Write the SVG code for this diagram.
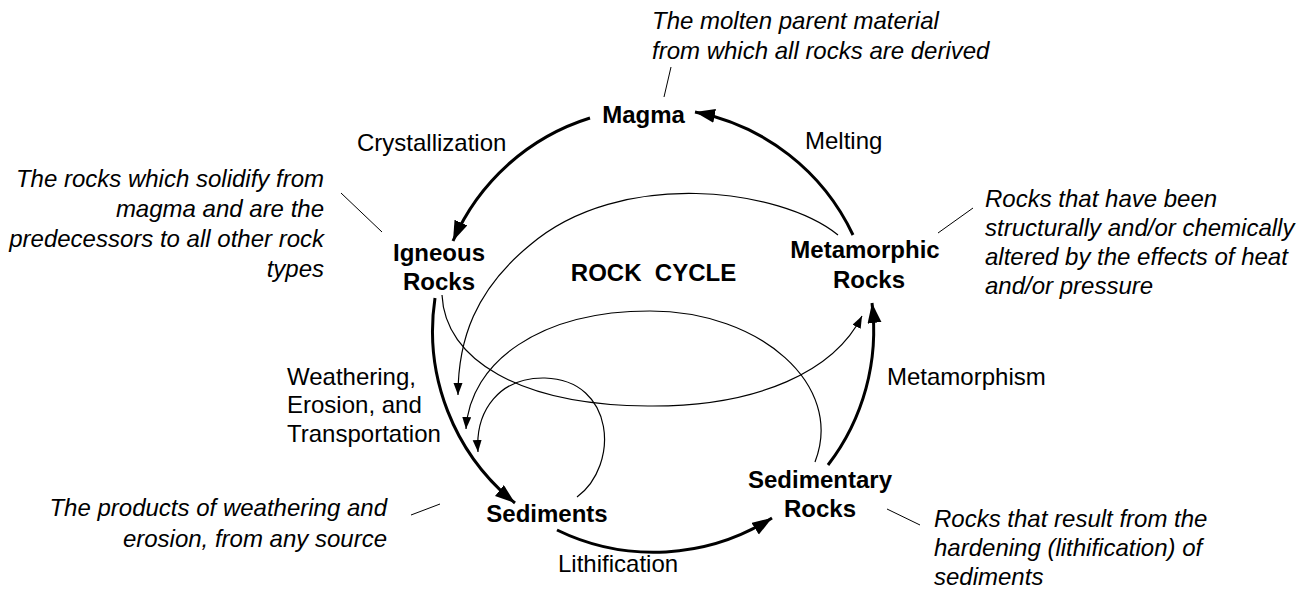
<svg xmlns="http://www.w3.org/2000/svg" width="1307" height="589" viewBox="0 0 1307 589">
<style>
text{font-family:"Liberation Sans",Arial,Helvetica,sans-serif;font-size:24px;fill:#000}
.b{font-weight:bold;text-anchor:middle}
.i{font-style:italic}
.r{text-anchor:end}
.thick{fill:none;stroke:#000;stroke-width:3}
.thin{fill:none;stroke:#000;stroke-width:1.2}
.lead{fill:none;stroke:#000;stroke-width:1}
</style>
<defs>
<marker id="ah" markerUnits="userSpaceOnUse" markerWidth="22" markerHeight="16" refX="20" refY="7" orient="auto"><path d="M0,0 L20,7 L0,14 z" fill="#000"/></marker>
<marker id="as" markerUnits="userSpaceOnUse" markerWidth="14" markerHeight="12" refX="12" refY="4.5" orient="auto"><path d="M0,0 L12,4.5 L0,9 z" fill="#000"/></marker>
</defs>
<g id="connectors">
<path class="thick" d="M590,118 A221,221 0 0 0 453,241" marker-end="url(#ah)"/>
<path class="thick" d="M853,235 A221,221 0 0 0 695,112" marker-end="url(#ah)"/>
<path class="thick" d="M435,298 A221,221 0 0 0 515,503" marker-end="url(#ah)"/>
<path class="thick" d="M557,530 A221,221 0 0 0 772,518" marker-end="url(#ah)"/>
<path class="thick" d="M828,465 A221,221 0 0 0 872,303" marker-end="url(#ah)"/>
<path class="thin" d="M838,235 C780,188 620,168 530,245 C475,290 458,340 458,395" marker-end="url(#as)"/>
<path class="thin" d="M442,295 C445,360 520,405 648,406 C760,407 835,370 862,316" marker-end="url(#as)"/>
<path class="thin" d="M815,462 C845,385 760,311 650,311 C540,311 470,362 466,429" marker-end="url(#as)"/>
<path class="thin" d="M577,497 C620,465 615,380 545,378 C500,377 475,410 478,452" marker-end="url(#as)"/>
<path class="lead" d="M671,67 L664,97"/>
<path class="lead" d="M341,193 L382,232"/>
<path class="lead" d="M973,208 L938,233"/>
<path class="lead" d="M411,515 L440,504"/>
<path class="lead" d="M887,509 L920,525"/>
</g>
<g id="magma"><text class="b" x="643.5" y="123">Magma</text></g>
<g id="igneous"><text class="b" x="439" y="261">Igneous</text><text class="b" x="439" y="290">Rocks</text></g>
<g id="metamorphic"><text class="b" x="865" y="258">Metamorphic</text><text class="b" x="869" y="288">Rocks</text></g>
<g id="sediments"><text class="b" x="547" y="522">Sediments</text></g>
<g id="sedimentary"><text class="b" x="820" y="488">Sedimentary</text><text class="b" x="820" y="517">Rocks</text></g>
<g id="title"><text class="b" x="653.5" y="281" xml:space="preserve">ROCK  CYCLE</text></g>
<g id="labels">
<text x="357" y="151">Crystallization</text>
<text x="805" y="149">Melting</text>
<text x="887" y="385">Metamorphism</text>
<text x="287" y="385">Weathering,</text>
<text x="287" y="413">Erosion, and</text>
<text x="287" y="442">Transportation</text>
<text x="558" y="572">Lithification</text>
</g>
<g id="notes">
<text class="i" x="652" y="29">The molten parent material</text>
<text class="i" x="652" y="59">from which all rocks are derived</text>
<text class="i r" x="324" y="187">The rocks which solidify from</text>
<text class="i r" x="324" y="217">magma and are the</text>
<text class="i r" x="324" y="247">predecessors to all other rock</text>
<text class="i r" x="324" y="277">types</text>
<text class="i" x="985" y="207">Rocks that have been</text>
<text class="i" x="985" y="236">structurally and/or chemically</text>
<text class="i" x="985" y="265">altered by the effects of heat</text>
<text class="i" x="985" y="294">and/or pressure</text>
<text class="i r" x="387" y="516">The products of weathering and</text>
<text class="i r" x="387" y="547">erosion, from any source</text>
<text class="i" x="934" y="527">Rocks that result from the</text>
<text class="i" x="934" y="556">hardening (lithification) of</text>
<text class="i" x="934" y="585">sediments</text>
</g>
</svg>
